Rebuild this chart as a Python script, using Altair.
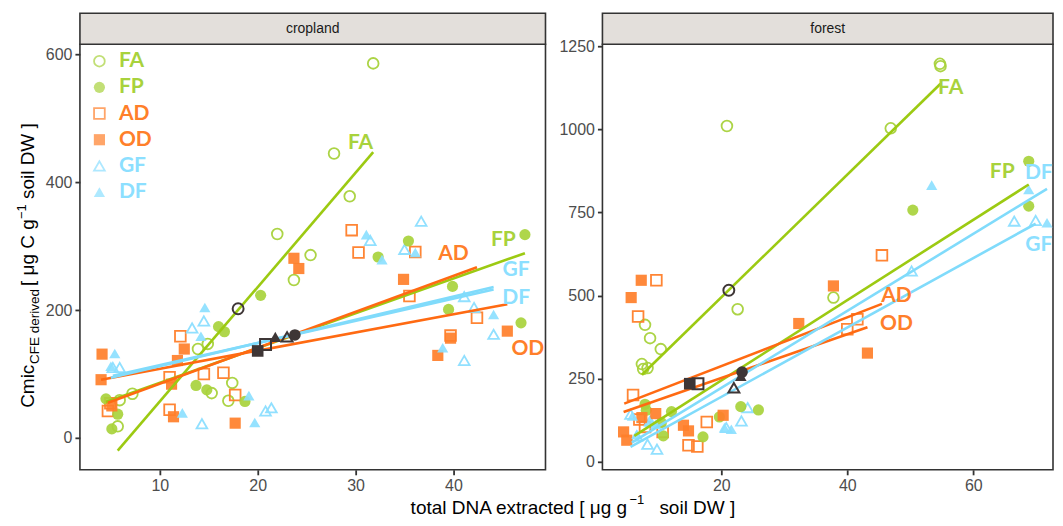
import altair as alt
import pandas as pd

# ---------------- series definitions ----------------
SERIES = ["FA", "FP", "AD", "OD", "GF", "DF"]
FILLED = [False, True, False, True, False, True]
POINT_COLORS = ["#A8D23C", "#A8D23C", "#FF7F2A", "#FF7F2A", "#8CDFFF", "#8CDFFF"]
LINE_COLORS = ["#9CCA12", "#9CCA12", "#FF6A12", "#FF6A12", "#80DBFB", "#80DBFB"]
SHAPES = ["circle", "circle", "square", "square", "triangle-up", "triangle-up"]
DARK = "#3E3636"
PANELS = ["cropland", "forest"]

# ---------------- cropland points ----------------
crop_FA_x = [31.8, 27.8, 29.4, 22.0, 25.4, 23.7, 14.9, 13.9, 17.4, 15.3, 17.0, 7.2, 5.9, 5.7]
crop_FA_y = [586, 445, 378, 319, 286, 247, 147, 139, 86, 70, 58, 69, 59, 18]
crop_FP_x = [20.3, 16.0, 16.6, 13.7, 14.8, 18.7, 4.5, 5.7, 5.1, 35.4, 32.3, 47.3, 39.9, 39.5, 46.9]
crop_FP_y = [223, 174, 166, 82, 75, 57, 61, 37, 14, 308, 283, 318, 237, 201, 180]
crop_AD_x = [12.1, 11.0, 14.5, 16.5, 17.7, 11.0, 4.95, 4.7, 29.6, 30.3, 36.1, 35.5, 42.4, 39.7]
crop_AD_y = [159, 95, 100, 102, 67, 44, 54, 42, 325, 290, 291, 222, 188, 160]
crop_OD_x = [4.1, 4.0, 12.5, 11.8, 11.2, 11.4, 17.7, 23.7, 24.2, 5.1, 34.9, 39.7, 38.4, 45.5]
crop_OD_y = [131, 91, 139, 121, 84, 33, 23, 281, 265, 50, 248, 156, 129, 167]
crop_GF_x = [36.7, 31.5, 35.0, 41.1, 42.1, 44.1, 41.1, 13.3, 14.5, 14.3, 20.8, 21.4, 5.2, 5.9]
crop_GF_y = [339, 309, 295, 221, 204, 162, 121, 172, 183, 22, 42, 47, 110, 110]
crop_DF_x = [14.6, 14.2, 5.4, 5.0, 12.3, 19.1, 19.7, 31.1, 32.7, 36.1, 44.1, 38.9]
crop_DF_y = [204, 159, 132, 112, 39, 66, 24, 318, 279, 290, 193, 141]

# ---------------- forest points ----------------
for_FA_x = [20.9, 54.7, 54.8, 46.9, 22.6, 7.9, 8.7, 10.4, 7.4, 7.6, 8.3, 37.8]
for_FA_y = [1010, 1197, 1190, 1003, 459, 412, 372, 339, 294, 279, 282, 494]
for_FP_x = [68.8, 68.8, 50.4, 12.1, 10.8, 17.1, 19.7, 23.1, 25.9, 7.9, 10.5, 8.1]
for_FP_y = [904, 769, 757, 151, 78, 75, 135, 166, 156, 173, 118, 155]
for_AD_x = [9.7, 6.8, 6.0, 17.7, 14.8, 16.2, 7.9, 10.7, 45.5, 40.0, 41.6, 7.0]
for_AD_y = [546, 437, 201, 120, 50, 46, 105, 90, 621, 399, 429, 127]
for_OD_x = [7.3, 5.7, 4.5, 5.0, 7.4, 9.6, 14.0, 14.8, 20.3, 32.3, 37.8, 43.2]
for_OD_y = [546, 494, 90, 65, 133, 145, 110, 93, 140, 416, 529, 327]
for_GF_x = [66.5, 69.9, 50.2, 5.6, 24.2, 23.2, 8.3, 9.8, 20.8, 6.6, 8.7]
for_GF_y = [724, 726, 574, 143, 163, 123, 53, 38, 103, 78, 123]
for_DF_x = [53.4, 68.8, 71.7, 8.7, 6.6, 20.5, 21.6, 9.6, 5.9]
for_DF_y = [832, 819, 719, 120, 83, 103, 98, 113, 138]

# ---------------- group means (dark markers) ----------------
crop_mean_x = [18.0, 23.8, 20.8, 20.0, 23.0, 21.8]
crop_mean_y = [202, 161, 146, 136, 158, 158]
for_mean_x = [21.2, 23.3, 16.3, 15.0, 22.0, 23.1]
for_mean_y = [516, 270, 235, 235, 223, 258]

# ---------------- fitted lines (start/end) ----------------
crop_line_x0 = [5.7, 4.5, 4.7, 4.0, 5.2, 5.0]
crop_line_y0 = [-20, 56, 55, 91, 97, 94]
crop_line_x1 = [31.8, 47.3, 42.4, 45.5, 44.1, 44.1]
crop_line_y1 = [447, 289, 267, 209, 232, 236]
for_line_x0 = [7.4, 6.2, 4.6, 4.5, 5.6, 5.8]
for_line_y0 = [262, 78, 175, 150, 45, 58]
for_line_x1 = [54.8, 68.8, 45.5, 43.2, 69.9, 71.7]
for_line_y1 = [1137, 834, 475, 405, 716, 821]

# ---------------- series labels at line ends ----------------
crop_lab_x = [30.5, 45.1, 40.0, 47.6, 46.4, 46.4]
crop_lab_y = [461, 309, 288, 139, 262, 219]
for_lab_x = [56.4, 64.6, 47.8, 47.8, 70.4, 70.4]
for_lab_y = [1124, 871, 499, 414, 652, 868]

# ---------------- axes ----------------
crop_xdom = [1.84, 49.4]
crop_ydom = [-50, 616]
for_xdom = [1.14, 72.65]
for_ydom = [-24, 1256]
crop_xticks = [10, 20, 30, 40]
crop_yticks = [0, 200, 400, 600]
for_xticks = [20, 40, 60]
for_yticks = [0, 250, 500, 750, 1000, 1250]

PW_CROP, PW_FOR, PH = 466, 451, 426

# ---------------- build tables ----------------
raw = {
    "cropland": {
        "FA": (crop_FA_x, crop_FA_y), "FP": (crop_FP_x, crop_FP_y),
        "AD": (crop_AD_x, crop_AD_y), "OD": (crop_OD_x, crop_OD_y),
        "GF": (crop_GF_x, crop_GF_y), "DF": (crop_DF_x, crop_DF_y),
    },
    "forest": {
        "FA": (for_FA_x, for_FA_y), "FP": (for_FP_x, for_FP_y),
        "AD": (for_AD_x, for_AD_y), "OD": (for_OD_x, for_OD_y),
        "GF": (for_GF_x, for_GF_y), "DF": (for_DF_x, for_DF_y),
    },
}
filled_of = dict(zip(SERIES, FILLED))

rows = []
for p, d in raw.items():
    for s, (xs, ys) in d.items():
        for xv, yv in zip(xs, ys):
            rows.append({"panel": p, "series": s, "x": xv, "y": yv, "filled": filled_of[s]})
points = pd.DataFrame(rows)

means = pd.DataFrame(
    [{"panel": "cropland", "series": s, "x": xv, "y": yv, "filled": filled_of[s]}
     for s, xv, yv in zip(SERIES, crop_mean_x, crop_mean_y)]
    + [{"panel": "forest", "series": s, "x": xv, "y": yv, "filled": filled_of[s]}
       for s, xv, yv in zip(SERIES, for_mean_x, for_mean_y)]
)

lrows = []
for p, x0, y0, x1, y1 in [("cropland", crop_line_x0, crop_line_y0, crop_line_x1, crop_line_y1),
                          ("forest", for_line_x0, for_line_y0, for_line_x1, for_line_y1)]:
    for i, s in enumerate(SERIES):
        lrows.append({"panel": p, "series": s, "x": x0[i], "y": y0[i]})
        lrows.append({"panel": p, "series": s, "x": x1[i], "y": y1[i]})
lines = pd.DataFrame(lrows)

labels = pd.DataFrame(
    [{"panel": "cropland", "series": s, "x": xv, "y": yv} for s, xv, yv in zip(SERIES, crop_lab_x, crop_lab_y)]
    + [{"panel": "forest", "series": s, "x": xv, "y": yv} for s, xv, yv in zip(SERIES, for_lab_x, for_lab_y)]
)

legend_df = pd.DataFrame({"series": SERIES, "filled": FILLED})

color_enc = alt.Color("series:N", scale=alt.Scale(domain=SERIES, range=POINT_COLORS), legend=None)
shape_enc = alt.Shape("series:N", scale=alt.Scale(domain=SERIES, range=SHAPES), legend=None)
stroke_enc = alt.Stroke("series:N", scale=alt.Scale(domain=SERIES, range=LINE_COLORS), legend=None)

LABEL_FONT = "Lato"
AX_FONT = "Liberation Sans"


def text_piece(txt, x, y, size, angle=0):
    return alt.Chart(pd.DataFrame({"t": [txt]})).mark_text(
        font=AX_FONT, fontSize=size, angle=angle, align="left", baseline="alphabetic", color="black"
    ).encode(x=alt.value(x), y=alt.value(y), text="t:N")


def panel(name, xdom, ydom, xticks, yticks, width):
    X = alt.X("x:Q", scale=alt.Scale(domain=xdom, nice=False, zero=False),
              axis=alt.Axis(values=xticks, title=None, format="d"))
    Y = alt.Y("y:Q", scale=alt.Scale(domain=ydom, nice=False, zero=False),
              axis=alt.Axis(values=yticks, title=None, format="d"))
    pts = points[points.panel == name]
    mns = means[means.panel == name]
    open_pts = alt.Chart(pts[~pts.filled]).mark_point(
        filled=False, size=115, strokeWidth=1.8, opacity=0.95
    ).encode(x=X, y=Y, color=color_enc, shape=shape_enc)
    fill_pts = alt.Chart(pts[pts.filled]).mark_point(
        filled=True, size=125, opacity=0.92
    ).encode(x=X, y=Y, color=color_enc, shape=shape_enc)
    fit = alt.Chart(lines[lines.panel == name]).mark_line(strokeWidth=2.6).encode(
        x=X, y=Y, stroke=stroke_enc, detail="series:N")
    mean_open = alt.Chart(mns[~mns.filled]).mark_point(
        filled=False, size=120, strokeWidth=2, color=DARK, opacity=1
    ).encode(x=X, y=Y, shape=shape_enc)
    mean_fill = alt.Chart(mns[mns.filled]).mark_point(
        filled=True, size=135, color=DARK, opacity=1
    ).encode(x=X, y=Y, shape=shape_enc)
    labs = alt.Chart(labels[labels.panel == name]).mark_text(
        font=LABEL_FONT, fontWeight="bold", fontSize=21, align="center", baseline="middle",
        clip=True
    ).encode(x=X, y=Y, text="series:N", color=color_enc)
    strip = alt.Chart(pd.DataFrame({"panel": [name]})).mark_rect(
        fill="#E3DFDB", stroke="#333333", strokeWidth=1.6
    ).encode(x=alt.value(0), x2=alt.value(width), y=alt.value(-31), y2=alt.value(0))
    strip_txt = alt.Chart(pd.DataFrame({"panel": [name]})).mark_text(
        font=AX_FONT, fontSize=14, color="#1A1A1A", align="center", baseline="middle"
    ).encode(x=alt.value(width / 2), y=alt.value(-15.5), text="panel:N")
    layers = [open_pts, fill_pts, fit, mean_open, mean_fill, labs, strip, strip_txt]
    if name == "cropland":
        # y-axis title with subscript / superscript
        layers += [
            text_piece("Cmic", -46, 364, 19, 270),
            text_piece("CFE derived", -41, 320, 13.5, 270),
            text_piece("[ \u03bcg C g", -46, 242, 19, 270),
            text_piece("\u22121", -54, 175, 13, 270),
            text_piece("soil DW ]", -46, 155, 19, 270),
            # x-axis title (centred under both panels)
            text_piece("total DNA extracted [ \u03bcg g", 331, 470, 19),
            text_piece("\u22121", 550, 460, 13),
            text_piece("soil DW ]", 580, 470, 19),
        ]
    main = alt.layer(*layers)
    if name == "cropland":
        LY = alt.Y("series:N", scale=alt.Scale(type="point", domain=SERIES, range=[17, 148], padding=0), axis=None)
        leg_open = alt.Chart(legend_df).transform_filter("!datum.filled").mark_point(
            filled=False, size=115, strokeWidth=1.8
        ).encode(x=alt.value(19.5), y=LY, color=color_enc, shape=shape_enc)
        leg_fill = alt.Chart(legend_df).transform_filter("datum.filled").mark_point(
            filled=True, size=125
        ).encode(x=alt.value(19.5), y=LY, color=color_enc, shape=shape_enc)
        leg_txt = alt.Chart(legend_df).mark_text(
            font=LABEL_FONT, fontWeight="bold", fontSize=21, align="left", baseline="middle"
        ).encode(x=alt.value(39), y=LY, text="series:N", color=color_enc)
        main = alt.layer(main, alt.layer(leg_open, leg_fill, leg_txt)).resolve_scale(y="independent")
    return main.properties(width=width, height=PH)


crop = panel("cropland", crop_xdom, crop_ydom, crop_xticks, crop_yticks, PW_CROP)
forest = panel("forest", for_xdom, for_ydom, for_xticks, for_yticks, PW_FOR)

chart = alt.hconcat(crop, forest, spacing=57, bounds="flush").properties(
    padding={"left": 7, "top": 3, "right": 0, "bottom": 0}
).configure_view(
    stroke="#333333", strokeWidth=1.6
).configure_axis(
    domain=False, grid=False, tickColor="#333333", tickWidth=1.8, tickSize=5,
    labelFont=AX_FONT, labelFontSize=16, labelColor="#4D4D4D", labelPadding=3
)

chart.save("out.html", embed_options={"renderer": "svg", "actions": False})
